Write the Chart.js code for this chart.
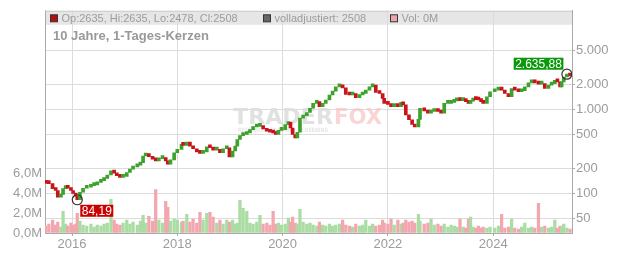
<!DOCTYPE html>
<html>
<head>
<meta charset="utf-8">
<script src="https://cdn.jsdelivr.net/npm/chart.js@4.4.1/dist/chart.umd.min.js"></script>
<style>
  body { margin: 0; background: #fff; }
  canvas { display: block; }
</style>
</head>
<body>
<canvas id="chart" width="632" height="253"></canvas>
<script>
// dates as decimal years, closes
const dates = [
  2015.50, 2015.56, 2015.63, 2015.69, 2015.73, 2015.79, 2015.83, 2015.88, 2015.92, 2015.98,
  2016.02, 2016.07, 2016.10, 2016.15, 2016.21, 2016.28, 2016.36, 2016.42, 2016.48, 2016.55,
  2016.61, 2016.67, 2016.74, 2016.80, 2016.85, 2016.91, 2016.97, 2017.04, 2017.10, 2017.16,
  2017.24, 2017.30, 2017.35, 2017.40, 2017.46, 2017.53, 2017.59, 2017.65, 2017.72, 2017.78,
  2017.82, 2017.87, 2017.94, 2018.00, 2018.08,
  2018.11, 2018.18, 2018.24, 2018.30, 2018.37, 2018.43, 2018.49, 2018.56, 2018.62, 2018.68,
  2018.75, 2018.81, 2018.87, 2018.94, 2018.99, 2019.05, 2019.10, 2019.14, 2019.19, 2019.25,
  2019.32, 2019.38, 2019.44, 2019.51, 2019.57, 2019.63, 2019.70, 2019.76, 2019.82, 2019.87,
  2019.92, 2019.98, 2020.05, 2020.11, 2020.15, 2020.19, 2020.24, 2020.28, 2020.33, 2020.39,
  2020.46, 2020.52, 2020.58, 2020.65,
  2020.70, 2020.76, 2020.82, 2020.89, 2020.95, 2021.01, 2021.08, 2021.14, 2021.20, 2021.27,
  2021.33, 2021.39, 2021.46, 2021.52, 2021.58, 2021.65, 2021.71, 2021.77, 2021.84, 2021.90,
  2021.93, 2022.00, 2022.06, 2022.12, 2022.19, 2022.25, 2022.29, 2022.34, 2022.40, 2022.46,
  2022.51, 2022.58, 2022.61, 2022.69, 2022.76, 2022.82, 2022.88, 2022.95, 2023.01, 2023.07,
  2023.14, 2023.20, 2023.26,
  2023.31, 2023.37, 2023.43, 2023.48, 2023.53, 2023.57, 2023.62, 2023.67, 2023.72, 2023.77,
  2023.81, 2023.88, 2023.94, 2024.03, 2024.10, 2024.16, 2024.22, 2024.29, 2024.35, 2024.41,
  2024.48, 2024.54, 2024.60, 2024.67, 2024.73, 2024.79, 2024.86, 2024.92, 2024.98, 2025.05,
  2025.11, 2025.17, 2025.22, 2025.27, 2025.30, 2025.34, 2025.40, 2025.46
];
const closes = [
  132, 131, 114.5, 108.5, 90.5, 97.3, 114.5, 121.8, 115.5, 108.5,
  100, 93, 84.19, 103.6, 115.5, 118.6, 124.2, 126.6, 135.8, 142.2,
  151.4, 166, 186.5, 175.2, 162.9, 155.5, 159.8, 178.1, 195.3, 207.8,
  217.6, 233.4, 279.9, 285.3, 274.7, 255.9, 244.4, 260.2, 267.3, 244.4,
  223.6, 251.2, 306.1, 335.7, 384.3,
  374, 409, 367, 341, 312, 301, 312, 360, 351, 329,
  336, 306, 341, 351, 272, 321, 367, 440, 490, 504,
  526, 577, 619, 631, 643, 586, 551, 536, 526, 504,
  566, 577, 661, 703, 603, 504, 460, 536, 790, 843,
  922, 1036, 1186, 1242,
  1085, 1186, 1301, 1489, 1660, 1865, 1953, 1815, 1514, 1489,
  1555, 1384, 1489, 1555, 1705, 1865, 1953, 1598, 1555, 1358,
  1186, 1155, 1085, 1136, 1085, 1218, 1136, 866, 756, 666,
  620, 763, 1036, 965, 905, 947, 992, 947, 905, 1186,
  1186, 1218, 1266,
  1301, 1276, 1301, 1242, 1186, 1258, 1322, 1311, 1301, 1242,
  1186, 1422, 1629, 1705, 1781, 1705, 1555, 1422, 1781, 1705,
  1629, 1673, 1865, 2078, 2135, 2078, 2006, 2039, 1781, 1953,
  2039, 2236, 2135, 1865, 2135, 2444, 2635, 2508
];
const firstOpen = 136;
// volume in millions
const volumes = [
  0.7, 0.9, 1.3, 0.8, 1.1, 0.6, 2.2, 0.9, 0.7, 1.0,
  0.8, 0.9, 2.0, 1.2, 0.8, 0.7, 0.9, 0.6, 0.8, 0.7,
  0.9, 1.0, 3.4, 1.3, 0.9, 0.8, 1.0, 1.3, 0.9, 1.1,
  0.8, 1.2, 1.8, 1.0, 1.7, 1.2, 4.4, 1.3, 1.0, 3.2,
  2.6, 1.2, 1.4, 1.3, 1.1,
  1.2, 1.9, 1.1, 1.4, 1.0, 2.1, 1.3, 2.0, 2.1, 1.6,
  1.0, 1.3, 0.9, 1.3, 1.1, 1.3, 0.9, 1.0, 3.3, 2.5,
  2.2, 1.0, 0.9, 1.1, 1.8, 0.9, 1.0, 0.8, 2.2, 0.9,
  1.0, 0.8, 0.9, 1.5, 1.1, 1.6, 1.0, 0.9, 2.4, 1.1,
  0.9, 1.0, 0.8, 0.7,
  1.1, 0.8, 0.7, 0.9, 0.7, 0.8, 0.9, 1.3, 0.8, 0.7,
  0.6, 0.9, 0.7, 0.8, 1.3, 0.7, 0.9, 0.7, 0.8, 1.3,
  1.0, 0.9, 1.4, 0.8, 1.3, 0.9, 1.0, 1.3, 1.1, 1.2,
  1.0, 1.9, 1.2, 0.9, 1.0, 1.4, 0.8, 0.9, 0.7, 0.9,
  0.6, 0.8, 0.7,
  0.6, 1.4, 0.6, 0.5, 1.4, 1.6, 0.6, 0.5, 0.7, 0.5,
  0.6, 0.5, 0.6, 0.5, 0.7, 1.9, 0.5, 0.6, 1.4, 0.5,
  0.4, 0.6, 1.0, 0.5, 0.6, 0.5, 3.0, 0.6, 0.7, 0.5,
  0.6, 1.3, 0.5, 0.7, 0.6, 0.9, 0.5, 0.4
];

const xTicks = [2016, 2018, 2020, 2022, 2024];
const priceTicks = [50, 100, 200, 500, 1000, 2000, 5000];
const volTicks = [0, 2, 4, 6];
const lowPoint = { x: 2016.10, y: 84.19, label: '84,19' };
const highPoint = { x: 2025.40, y: 2635.88, label: '2.635,88' };
const headerInfo = { op: 2635, hi: 2635, lo: 2478, cl: 2508, adj: 2508, vol: '0M' };
const title = '10 Jahre, 1-Tages-Kerzen';

const GREEN = '#3da22c';
const RED = '#c8141c';
const VOL_GREEN = '#aadca3';
const VOL_RED = '#f2a7af';
const GRID = '#dcdcdc';
const AXIS = '#aaaaaa';
const TEXT = '#9c9c9c';
const FONT = '"Liberation Sans", Arial, sans-serif';

const fmtDE = v => String(v).replace(/\B(?=(\d{3})+(?!\d))/g, '.');

// candle bodies run from the previous close to this close
const opens = closes.map((c, i) => i === 0 ? firstOpen : closes[i - 1]);
const candleData = dates.map((d, i) => ({ x: d, y: [opens[i], closes[i]] }));
const candleColors = closes.map((c, i) => c >= opens[i] ? GREEN : RED);
const volData = dates.map((d, i) => ({ x: d, y: volumes[i] }));
const volColors = closes.map((c, i) => c >= opens[i] ? VOL_GREEN : VOL_RED);

function stretchText(ctx, txt, x, y, w) {
  const m = ctx.measureText(txt).width;
  ctx.save();
  ctx.translate(x, y);
  ctx.scale(w / m, 1);
  ctx.fillText(txt, 0, 0);
  ctx.restore();
}

function tag(ctx, txt, x, y, alignRight, color) {
  ctx.font = '12px ' + FONT;
  const w = ctx.measureText(txt).width + 3;
  const h = 12;
  const left = alignRight ? x - w : x;
  const top = alignRight ? y - h : y;
  ctx.fillStyle = color;
  ctx.fillRect(left, top, w, h);
  ctx.fillStyle = '#fff';
  ctx.textAlign = 'center';
  ctx.textBaseline = 'middle';
  ctx.fillText(txt, left + w / 2, top + h / 2 + 0.5);
}

const decor = {
  id: 'decor',
  beforeDraw(chart) {
    const { ctx, chartArea: a } = chart;
    ctx.save();
    ctx.fillStyle = '#e6e6e6';
    ctx.fillRect(a.left, a.top, a.right - a.left, 14);
    ctx.restore();
  },
  beforeDatasetsDraw(chart) {
    const { ctx, chartArea: a } = chart;
    ctx.save();
    // top frame line
    ctx.strokeStyle = '#cccccc';
    ctx.lineWidth = 1;
    ctx.beginPath();
    ctx.moveTo(a.left, a.top + 0.5);
    ctx.lineTo(a.right, a.top + 0.5);
    ctx.stroke();

    // header legend
    const hy = a.top + 7.5;
    ctx.font = '11px ' + FONT;
    ctx.textBaseline = 'middle';
    const items = [
      [a.left + 5.5, '#b31010', `Op:${headerInfo.op}, Hi:${headerInfo.hi}, Lo:${headerInfo.lo}, Cl:${headerInfo.cl}`],
      [a.left + 218.5, '#666666', `volladjustiert: ${headerInfo.adj}`],
      [a.left + 345.5, '#eca4ac', `Vol: ${headerInfo.vol}`]
    ];
    items.forEach(([x, c, t]) => {
      ctx.fillStyle = c;
      ctx.fillRect(x, hy - 3.5, 7, 7);
      ctx.strokeStyle = '#333';
      ctx.strokeRect(x, hy - 3.5, 7, 7);
      ctx.fillStyle = TEXT;
      ctx.fillText(t, x + 11, hy + 0.5);
    });

    // title
    ctx.font = 'bold 13px ' + FONT;
    ctx.fillStyle = '#999999';
    ctx.fillText(title, a.left + 8, a.top + 25.5);

    // watermark
    ctx.textBaseline = 'alphabetic';
    ctx.font = 'bold 21px "DejaVu Sans"';
    ctx.fillStyle = 'rgba(222,222,222,0.9)';
    stretchText(ctx, 'TRADER', 233, 123.5, 100);
    ctx.fillStyle = 'rgba(246,190,190,0.65)';
    stretchText(ctx, 'FOX', 334, 123.5, 48);
    ctx.font = 'bold 6px "DejaVu Sans"';
    ctx.fillStyle = 'rgba(222,222,222,0.8)';
    stretchText(ctx, 'RESEARCH · TRADING · SCREENING', 238, 132, 90);
    ctx.restore();
  },
  afterDatasetsDraw(chart) {
    const { ctx } = chart;
    const xs = chart.scales.x, ps = chart.scales.price;
    ctx.save();
    tag(ctx, lowPoint.label, xs.getPixelForValue(lowPoint.x) + 3, ps.getPixelForValue(lowPoint.y) + 5, false, '#cc0000');
    tag(ctx, highPoint.label, xs.getPixelForValue(highPoint.x) - 3.5, ps.getPixelForValue(highPoint.y) - 4.5, true, '#0a990a');
    ctx.restore();
  }
};

Chart.defaults.font.family = FONT;

new Chart(document.getElementById('chart'), {
  type: 'bar',
  data: {
    datasets: [
      {
        type: 'scatter',
        data: [{ x: lowPoint.x, y: lowPoint.y }, { x: highPoint.x, y: highPoint.y }],
        xAxisID: 'x',
        yAxisID: 'price',
        pointRadius: 5,
        pointBorderWidth: 1.2,
        pointBorderColor: '#333',
        pointBackgroundColor: 'rgba(0,0,0,0)',
        order: 0
      },
      {
        data: candleData,
        xAxisID: 'x',
        yAxisID: 'price',
        backgroundColor: candleColors,
        barThickness: 3,
        minBarLength: 3,
        grouped: false,
        order: 1
      },
      {
        data: volData,
        xAxisID: 'x',
        yAxisID: 'vol',
        backgroundColor: volColors,
        barThickness: 2.6,
        grouped: false,
        order: 2
      }
    ]
  },
  options: {
    responsive: false,
    animation: false,
    events: [],
    layout: { padding: { top: 8, left: 0, right: 0, bottom: 0 } },
    plugins: { legend: { display: false }, tooltip: { enabled: false } },
    scales: {
      x: {
        type: 'linear',
        position: 'bottom',
        min: 2015.487,
        max: 2025.497,
        offset: false,
        grid: { color: GRID, offset: false, tickLength: 3, tickColor: AXIS },
        border: { color: AXIS },
        afterBuildTicks: s => { s.ticks = xTicks.map(v => ({ value: v })); },
        afterFit: s => { s.height = 20; },
        ticks: {
          color: TEXT, font: { size: 13 }, padding: 1,
          maxRotation: 0, autoSkip: false,
          callback: v => String(v)
        }
      },
      price: {
        type: 'logarithmic',
        position: 'right',
        min: 33.84,
        max: 15010,
        grid: { color: GRID, tickLength: 3, tickColor: AXIS },
        border: { color: AXIS },
        afterBuildTicks: s => { s.ticks = priceTicks.map(v => ({ value: v })); },
        afterFit: s => { s.width = 60; },
        ticks: { color: TEXT, font: { size: 13 }, padding: 1, callback: v => fmtDE(v) }
      },
      vol: {
        type: 'linear',
        position: 'left',
        min: 0,
        max: 22.5,
        grid: { drawOnChartArea: false, drawTicks: false },
        border: { color: AXIS },
        afterBuildTicks: s => { s.ticks = volTicks.map(v => ({ value: v })); },
        afterFit: s => { s.width = 45; },
        ticks: { color: TEXT, font: { size: 13 }, padding: 3, callback: v => v.toFixed(1).replace('.', ',') + 'M' }
      }
    }
  },
  plugins: [decor]
});
</script>
</body>
</html>
